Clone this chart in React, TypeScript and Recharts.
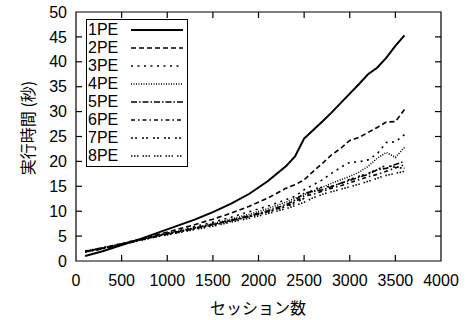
import { LineChart, Line, XAxis, YAxis, ReferenceArea, ReferenceLine } from "recharts";

const sessions = [100, 300, 500, 700, 900, 1100, 1300, 1500, 1700, 1900, 2100, 2300, 2400, 2500, 2600, 2700, 2800, 2900, 3000, 3100, 3200, 3300, 3400, 3500, 3600];

const pe1 = [1.0, 2.0, 3.2, 4.4, 5.7, 7.0, 8.3, 9.8, 11.5, 13.5, 16.0, 19.0, 21.0, 24.6, 26.3, 28.0, 29.8, 31.7, 33.6, 35.5, 37.5, 38.8, 40.8, 43.2, 45.3];
const pe2 = [1.9, 2.6, 3.4, 4.3, 5.3, 6.3, 7.3, 8.4, 9.6, 11.0, 12.6, 14.6, 15.3, 16.3, 18.0, 19.6, 21.3, 22.6, 24.2, 24.8, 25.8, 26.8, 27.9, 28.0, 30.4];
const pe3 = [2.0, 2.7, 3.5, 4.4, 5.2, 6.0, 6.9, 7.8, 8.8, 9.9, 11.0, 12.3, 13.0, 14.3, 15.3, 16.3, 17.6, 18.8, 19.8, 19.9, 20.3, 21.5, 23.8, 23.9, 25.4];
const pe4 = [2.0, 2.7, 3.5, 4.3, 5.1, 5.9, 6.7, 7.5, 8.4, 9.4, 10.5, 11.8, 12.6, 13.3, 14.0, 14.8, 15.6, 16.3, 17.0, 17.8, 19.0, 20.6, 21.8, 20.8, 22.8];
const pe5 = [1.9, 2.6, 3.4, 4.3, 5.1, 5.8, 6.6, 7.4, 8.2, 9.1, 10.1, 11.3, 12.2, 13.6, 14.0, 14.3, 14.9, 15.6, 16.2, 16.8, 17.4, 18.3, 18.6, 19.4, 20.0];
const pe6 = [1.8, 2.5, 3.3, 4.2, 5.0, 5.7, 6.5, 7.3, 8.1, 9.0, 9.9, 11.0, 11.9, 13.0, 13.4, 14.0, 14.6, 15.1, 15.7, 16.3, 16.9, 17.4, 18.0, 18.7, 19.3];
const pe7 = [1.9, 2.6, 3.4, 4.2, 5.0, 5.8, 6.5, 7.2, 8.0, 8.9, 9.8, 10.9, 11.6, 12.6, 14.5, 14.8, 15.0, 15.6, 16.4, 17.0, 17.6, 18.4, 19.2, 18.8, 18.6];
const pe8 = [1.8, 2.5, 3.3, 4.1, 4.9, 5.6, 6.3, 7.0, 7.8, 8.6, 9.5, 10.5, 11.1, 11.8, 12.7, 13.4, 13.9, 14.4, 14.9, 15.4, 16.0, 16.6, 17.2, 17.6, 18.0];

const seriesNames = ["1PE", "2PE", "3PE", "4PE", "5PE", "6PE", "7PE", "8PE"];
const seriesValues = [pe1, pe2, pe3, pe4, pe5, pe6, pe7, pe8];
const dashes = ["", "5 3", "2 4.5", "1 1.5", "6 2 1.5 2", "4 3 1.5 3", "2 2 2 5", "1.5 1.5 1.5 1.5 1.5 4"];

const xTicks = [0, 500, 1000, 1500, 2000, 2500, 3000, 3500, 4000];
const yTicks = [0, 5, 10, 15, 20, 25, 30, 35, 40, 45, 50];
const xMax = 4000;
const yMax = 50;

const data = sessions.map((x, i) => {
  const row: Record<string, number> = { x };
  seriesNames.forEach((n, k) => (row[n] = seriesValues[k][i]));
  return row;
});

const font = "'Liberation Sans', Arial, sans-serif";
const cjk = "'Noto Sans CJK JP', sans-serif";
// inward tick length, in data units (~6px each way)
const tickDx = 66;
const tickDy = 1.2;

// legend drawn as an overlay so it doesn't eat into the plot area
function LegendBox() {
  return (
    <div style={{ position: "absolute", left: 86, top: 19, border: "1px solid #000", background: "#fff", width: 100, padding: "1px 0", fontFamily: font, fontSize: 16, lineHeight: "18px" }}>
      {seriesNames.map((n, k) => (
        <div key={n} style={{ display: "flex", alignItems: "center", height: 18 }}>
          <span style={{ width: 43, paddingLeft: 1 }}>{n}</span>
          <svg width={53} height={6}>
            <line x1={0} y1={3} x2={52} y2={3} stroke="#000" strokeWidth={k === 0 ? 2 : 1.6} strokeDasharray={dashes[k]} />
          </svg>
        </div>
      ))}
    </div>
  );
}

const xLabel = () => (
  <text x={258} y={307} textAnchor="middle" dominantBaseline="central" fill="#000" fontSize={16} fontFamily={cjk}>
    セッション数
  </text>
);

const yLabel = () => (
  <text x={27} y={128} transform="rotate(-90 27 128)" textAnchor="middle" dominantBaseline="central" fill="#000" fontSize={16} fontFamily={cjk}>
    実行時間 (秒)
  </text>
);

export default function App() {
  return (
    <div style={{ position: "absolute", left: 0, top: 0, width: 470, height: 320, background: "#fff" }}>
      <LineChart width={470} height={320} data={data} margin={{ top: 12, right: 29, bottom: 29, left: 0 }}>
        <XAxis
          dataKey="x"
          type="number"
          domain={[0, xMax]}
          ticks={xTicks}
          interval={0}
          height={30}
          axisLine={false}
          tickLine={false}
          tickMargin={8}
          tick={{ fill: "#000", fontSize: 16, fontFamily: font }}
          label={xLabel}
        />
        <YAxis
          type="number"
          domain={[0, yMax]}
          ticks={yTicks}
          interval={0}
          width={76}
          axisLine={false}
          tickLine={false}
          tickMargin={3}
          tick={{ fill: "#000", fontSize: 16, fontFamily: font }}
          label={yLabel}
        />
        <ReferenceArea x1={0} x2={xMax} y1={0} y2={yMax} fill="none" stroke="#000" strokeWidth={1.2} />
        {xTicks.slice(1, -1).map((t) => (
          <ReferenceLine key={"b" + t} segment={[{ x: t, y: 0 }, { x: t, y: tickDy }]} stroke="#000" strokeWidth={1.2} />
        ))}
        {xTicks.slice(1, -1).map((t) => (
          <ReferenceLine key={"t" + t} segment={[{ x: t, y: yMax }, { x: t, y: yMax - tickDy }]} stroke="#000" strokeWidth={1.2} />
        ))}
        {yTicks.slice(1, -1).map((t) => (
          <ReferenceLine key={"l" + t} segment={[{ x: 0, y: t }, { x: tickDx, y: t }]} stroke="#000" strokeWidth={1.2} />
        ))}
        {yTicks.slice(1, -1).map((t) => (
          <ReferenceLine key={"r" + t} segment={[{ x: xMax, y: t }, { x: xMax - tickDx, y: t }]} stroke="#000" strokeWidth={1.2} />
        ))}
        {seriesNames.map((n, k) => (
          <Line
            key={n}
            dataKey={n}
            type="linear"
            stroke="#000"
            strokeWidth={k === 0 ? 2 : 1.6}
            strokeDasharray={dashes[k]}
            dot={false}
            isAnimationActive={false}
          />
        ))}
      </LineChart>
      <LegendBox />
    </div>
  );
}
